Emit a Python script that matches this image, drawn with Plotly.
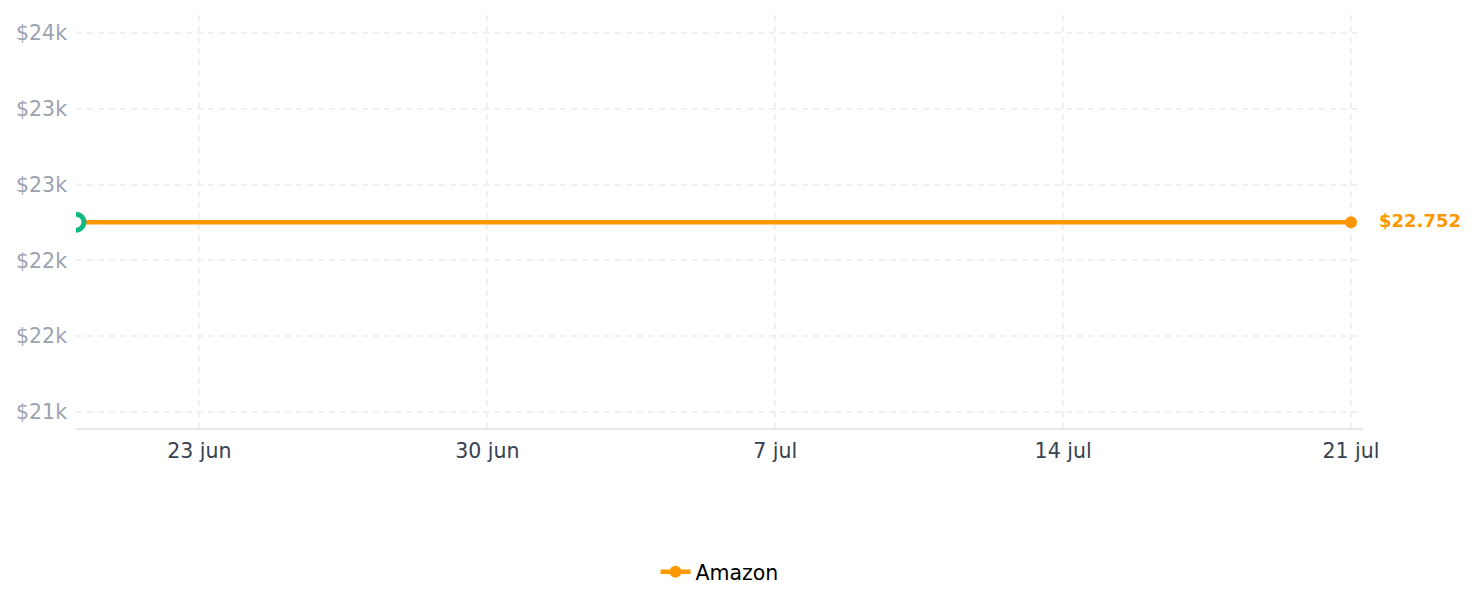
import plotly.graph_objects as go

dates = ["2024-06-20", "2024-07-21"]
prices = [22752, 22752]
series_name = "Amazon"
last_label = "$22.752"
y_tickvals = [21500, 22000, 22500, 23000, 23500, 24000]
y_ticktext = ["$21k", "$22k", "$22k", "$23k", "$23k", "$24k"]
x_tickvals = ["2024-06-23", "2024-06-30", "2024-07-07", "2024-07-14", "2024-07-21"]
x_ticktext = ["23 jun", "30 jun", "7 jul", "14 jul", "21 jul"]

ORANGE = "#ff9800"
GREEN = "#10b981"

fig = go.Figure()
fig.add_trace(go.Scatter(
    x=dates, y=prices, mode="lines+markers", name=series_name,
    line=dict(color=ORANGE, width=4.5),
    marker=dict(color=ORANGE, size=12),
))
fig.add_trace(go.Scatter(
    x=dates[:1], y=prices[:1], mode="markers", showlegend=False,
    marker=dict(color="white", size=16, line=dict(color=GREEN, width=5)),
))
fig.add_annotation(
    x=dates[-1], y=prices[-1], text="<b>" + last_label + "</b>", showarrow=False,
    xanchor="left", xshift=26, yshift=2,
    font=dict(color=ORANGE, size=18, family="DejaVu Sans"),
)
fig.update_layout(
    width=1478, height=607,
    margin=dict(l=76, r=115, t=15, b=179),
    paper_bgcolor="white", plot_bgcolor="white",
    font=dict(family="DejaVu Sans", size=20.5),
    showlegend=True,
    legend=dict(orientation="h", x=0.5, xanchor="center", y=-0.3, yanchor="top",
                font=dict(color="black", size=20.5)),
    xaxis=dict(
        range=["2024-06-20", "2024-07-21 07:00"],
        tickvals=x_tickvals, ticktext=x_ticktext,
        tickfont=dict(color="#374151", size=20.5),
        showgrid=True, gridcolor="#f0f0f0", griddash="6px,5px", gridwidth=1.5,
        showline=True, linecolor="#e5e7eb", linewidth=1.5,
        zeroline=False, ticks="", ticklabelstandoff=4,
    ),
    yaxis=dict(
        range=[21395, 24118],
        tickvals=y_tickvals, ticktext=y_ticktext,
        tickfont=dict(color="#9ca3af", size=20.5),
        showgrid=True, gridcolor="#f0f0f0", griddash="6px,5px", gridwidth=1.5,
        showline=False, zeroline=False, ticks="", ticklabelstandoff=8,
    ),
)
fig.write_html("out.html")
